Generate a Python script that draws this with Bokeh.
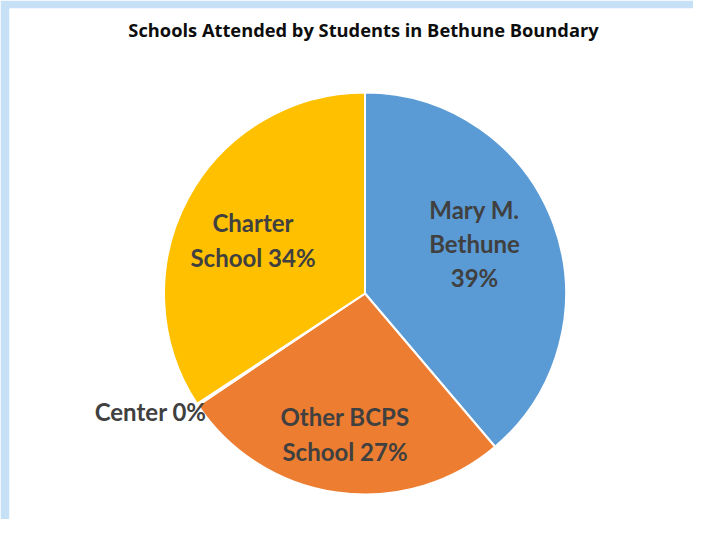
import numpy as np
from bokeh.plotting import figure
from bokeh.models import Range1d, ColumnDataSource
from bokeh.core.properties import value
from bokeh.embed import file_html
from bokeh.resources import INLINE

title = "Schools Attended by Students in Bethune Boundary"
categories = ["Mary M. Bethune", "Other BCPS School", "Center", "Charter School"]
shares = [38.8, 26.8, 0.15, 34.25]
labels = ["Mary M.\nBethune\n39%", "Other BCPS\nSchool 27%", "Center 0%", "Charter\nSchool 34%"]
colors = ["#5b9bd5", "#ed7d31", "#ffffff", "#ffc000"]

W, H = 693, 519
BL, BT = 9, 8  # light blue frame at left and top
p = figure(width=W, height=H, output_backend="svg", toolbar_location=None,
           x_range=Range1d(BL, W), y_range=Range1d(0, H - BT),
           min_border_left=BL, min_border_top=BT, min_border_right=0, min_border_bottom=0,
           background_fill_color="white", border_fill_color="#c6e0f5")
p.axis.visible = False
p.grid.visible = False
p.outline_line_color = None

# layout in picture pixels (y measured from the top)
def Y(py):
    return H - py

cx, cy, r = 364.5, Y(293), 201
vals = np.array(shares, dtype=float)
frac = vals / vals.sum()
cum = np.concatenate([[0], np.cumsum(frac)])
start = np.pi / 2 - 2 * np.pi * cum[:-1]
end = np.pi / 2 - 2 * np.pi * cum[1:]
src = ColumnDataSource(dict(x=[cx] * 4, y=[cy] * 4, start=start, end=end, color=colors))
p.wedge(x="x", y="y", radius=r, start_angle="start", end_angle="end", direction="clock",
        fill_color="color", line_color="white", line_width=2, source=src)

# label anchors (layout)
lx = [474, 344.5, 206, 252.5]
ly = [Y(243), Y(433.5), Y(411), Y(239.5)]
align = ["center", "center", "right", "center"]
lsrc = ColumnDataSource(dict(x=lx, y=ly, t=labels, a=align))
p.text(x="x", y="y", text="t", text_align="a", text_baseline="middle",
       text_font=value("Lato"), text_font_style="bold", text_font_size="24px",
       text_color="#404040", text_line_height=1.18, source=lsrc)

p.text(x=[363], y=[Y(29)], text=[title], text_align="center", text_baseline="middle",
       text_font=value("Open Sans"), text_font_style="bold", text_font_size="18.3px",
       text_color="#0d0d0d")

open("out.html", "w").write(file_html(p, INLINE))
